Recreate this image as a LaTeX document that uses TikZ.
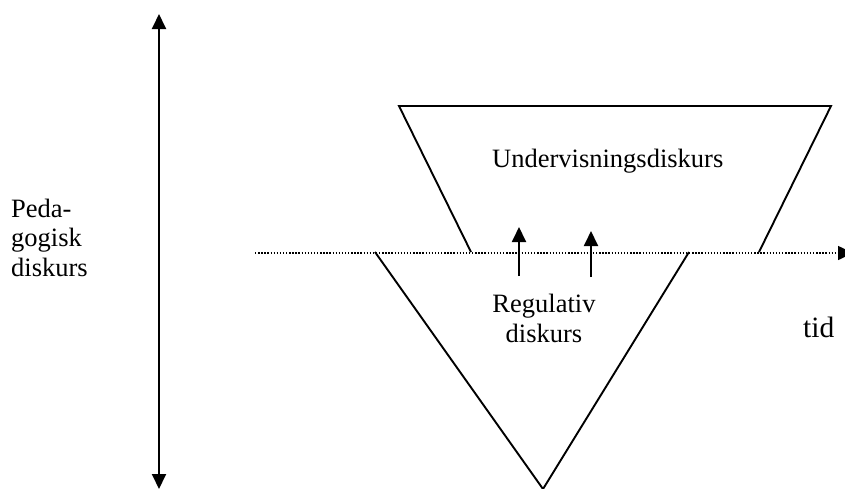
\documentclass[tikz,border=0pt]{standalone}
\usepackage{fontspec}
\setmainfont{Liberation Serif}
\usetikzlibrary{arrows.meta}
\begin{document}
\begin{tikzpicture}[x=1pt,y=-1pt,
  edge/.style={line width=1.9pt, line join=miter},
  tipped/.style={line width=1.9pt, -{Triangle[length=15pt,width=14pt]}},
  both/.style={line width=1.9pt, {Triangle[length=15pt,width=14pt]}-{Triangle[length=15pt,width=14pt]}},
  timeline/.style={line width=1.6pt, dash pattern=on 1.4pt off 1.7pt, -{Triangle[length=15pt,width=14pt]}},
  label/.style={inner sep=0pt, font=\fontsize{26.5}{29.5}\selectfont},
]
\clip (0,0) rectangle (845,488);

% corner points of the upper trapezoid and the lower triangle
\coordinate (tl) at (399,106);
\coordinate (tr) at (831,106);
\coordinate (br) at (759,252);
\coordinate (bl) at (471,252);
\coordinate (vl) at (375,252);
\coordinate (vr) at (689,252);
\coordinate (apex) at (543,489);

% time axis
\coordinate (t0) at (255,253);
\coordinate (t1) at (853,253);
\draw[timeline] (t0) -- (t1);

% pedagogic discourse axis
\coordinate (p0) at (159,14);
\coordinate (p1) at (159,489);
\draw[both] (p0) -- (p1);

% instructional discourse (open at the bottom)
\draw[edge] (bl) -- (tl) -- (tr) -- (br);

% regulative discourse (open at the top)
\draw[edge] (vl) -- (apex) -- (vr);

% upward influence arrows
\coordinate (a0) at (519,276);
\coordinate (a1) at (519,227);
\coordinate (b0) at (591,277);
\coordinate (b1) at (591,231);
\draw[tipped] (a0) -- (a1);
\draw[tipped] (b0) -- (b1);

% labels (base anchor sits on the last line of a multi-line node)
\node[label, anchor=base west] (undv) at (492,167) {Undervisningsdiskurs};
\node[label, anchor=base, align=center] (reg) at (544,342) {Regulativ\\diskurs};
\node[label, anchor=base west, align=left] (ped) at (11,276) {Peda-\\gogisk\\diskurs};
\node[inner sep=0pt, anchor=base west, font=\fontsize{29.5}{32}\selectfont] (tid) at (803,337) {tid};
\end{tikzpicture}
\end{document}
